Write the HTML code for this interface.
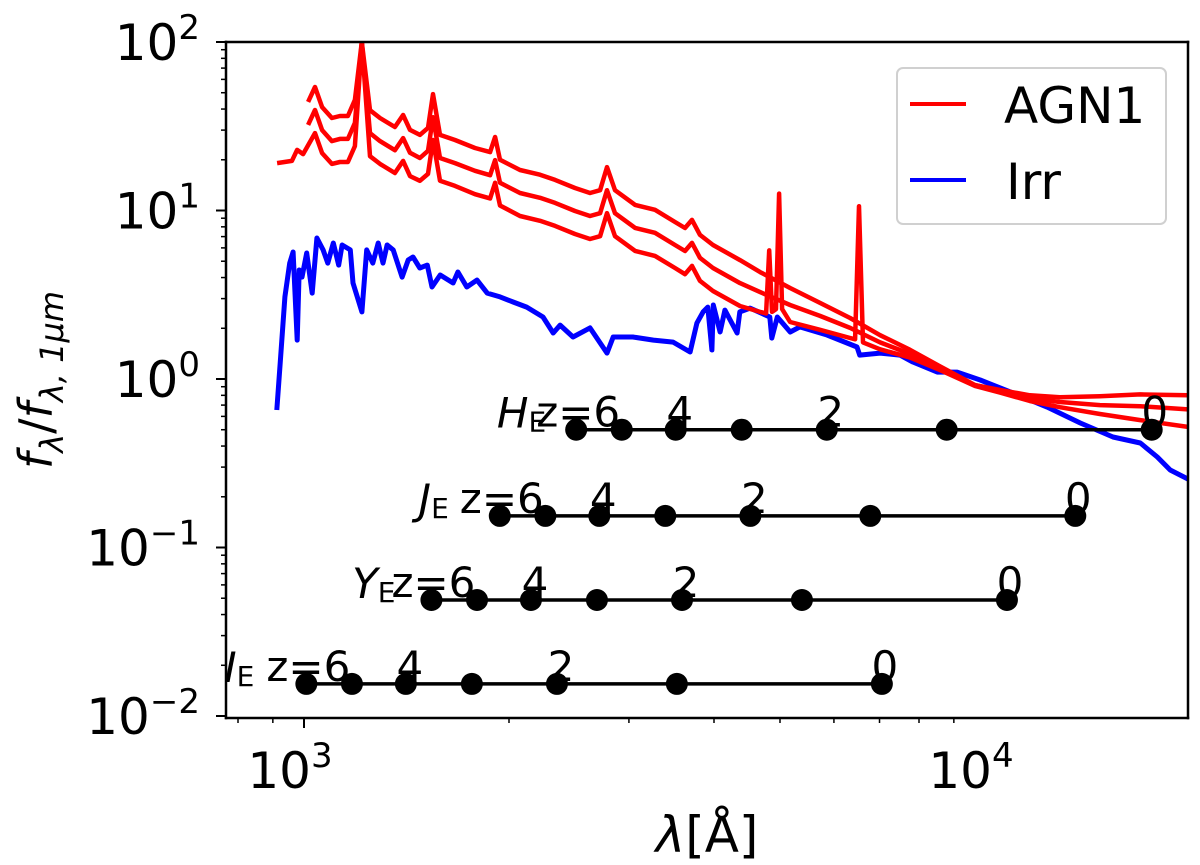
<!DOCTYPE html>
<html><head><meta charset="utf-8"><style>
body{margin:0;background:#fff;}
svg{display:block;font-family:"DejaVu Sans","Liberation Sans",sans-serif;}
</style></head><body>
<svg id="chart" width="1200" height="865" viewBox="0 0 1200 865">
<defs><clipPath id="plotclip"><rect x="226" y="42" width="962" height="676"/></clipPath></defs>
<g id="series" clip-path="url(#plotclip)"></g>
<g id="filters"></g>
<g id="axes"></g>
<g>
<rect x="897" y="68" width="269" height="156" rx="6" fill="#fff" fill-opacity="0.85" stroke="#d0d0d0" stroke-width="2"/>
<line x1="910" y1="104" x2="966" y2="104" stroke="#ff0000" stroke-width="4"/>
<text x="1004" y="123" font-size="50">AGN1</text>
<line x1="910" y1="180" x2="966" y2="180" stroke="#0000ff" stroke-width="4"/>
<text x="1006" y="199" font-size="50">Irr</text>
</g>
<text x="707" y="852" font-size="50" text-anchor="middle"><tspan font-style="italic">λ</tspan>[Å]</text>
<text transform="translate(52,380) rotate(-90)" font-size="46" text-anchor="middle"><tspan font-style="italic">f</tspan><tspan font-size="32" dy="11" font-style="italic">λ</tspan><tspan dy="-11">/</tspan><tspan font-style="italic">f</tspan><tspan font-size="32" dy="11" font-style="italic">λ, 1μm</tspan></text>
</svg>
<script>
// ---- data ----
const agnTopLambda=[1014,1038,1063,1099,1129,1160,1188,1216,1250,1293,1360,1398,1431,1480,1521,1547,1584,1666,1783,1876,1908,1940,2076,2221,2337,2500,2630,2721,2786,2862,3063,3277,3506,3626,3713,3815,3987,4367,4674,5173,5724,6337,7013,7761,8589,9667,10520,11640,12880,14750,16900,19860];
const agnTopFlux=[44.1,54.1,41.1,35.4,36.4,36.4,45.3,100,39.4,35.4,31.3,36.9,30.1,28.1,30.9,49.1,28.1,26.2,23.5,22.2,27.3,20.0,17.4,16.3,15.2,13.6,12.7,13.2,18.1,13.2,10.8,10.1,8.55,7.87,8.79,7.16,6.24,5.08,4.31,3.47,2.83,2.30,1.82,1.49,1.19,0.92,0.86,0.80,0.78,0.79,0.81,0.80];
const agnMidLambda=[1014,1038,1063,1099,1129,1160,1188,1216,1250,1293,1360,1398,1431,1480,1521,1547,1584,1666,1783,1876,1908,1940,2076,2221,2337,2500,2630,2721,2786,2862,3063,3277,3506,3626,3713,3815,3987,4367,4674,5173,5724,6337,7013,7761,8589,9667,10520,11640,12880,14750,16900,19860];
const agnMidFlux=[32.2,39.5,30.0,25.8,26.6,26.6,33.1,100,28.8,25.8,22.8,26.9,22.0,20.5,22.6,35.8,20.5,19.1,17.2,16.2,19.9,14.6,12.7,11.9,11.1,9.93,9.27,9.64,13.2,9.64,7.88,7.37,6.24,5.75,6.42,5.23,4.56,3.71,3.28,2.75,2.37,2.01,1.65,1.41,1.16,0.92,0.85,0.77,0.73,0.70,0.69,0.66];
const agnLowLambda=[913,960,977,997,1038,1063,1099,1129,1160,1188,1216,1250,1293,1360,1398,1431,1480,1521,1547,1584,1666,1783,1876,1908,1940,2076,2221,2337,2500,2630,2721,2786,2862,3063,3277,3506,3626,3713,3815,3987,4367,4674,4770,4820,4867,4933,4984,5035,5173,5724,6337,6445,6530,6620,7013,7761,8589,9667,10520,11640,12880,14750,16900,19860];
const agnLowFlux=[19.1,19.7,22.9,21.6,28.8,21.9,18.9,19.4,19.4,24.1,100,21.0,18.9,16.7,19.7,16.0,15.0,16.5,26.2,15.0,14.0,12.5,11.8,14.6,10.7,9.27,8.69,8.10,7.25,6.77,7.04,9.65,7.04,5.76,5.38,4.56,4.19,4.69,3.82,3.33,2.71,2.50,2.45,5.8,2.5,2.6,12.6,2.6,2.18,1.96,1.75,1.72,10.6,1.65,1.50,1.34,1.13,0.91,0.83,0.74,0.68,0.62,0.57,0.52];
const irrLogLambda=[2.960,2.965,2.972,2.979,2.984,2.990,2.993,2.997,3.004,3.012,3.019,3.028,3.035,3.043,3.051,3.056,3.068,3.072,3.085,3.092,3.101,3.109,3.116,3.122,3.131,3.144,3.153,3.160,3.170,3.181,3.188,3.200,3.219,3.226,3.239,3.254,3.269,3.288,3.307,3.327,3.351,3.366,3.376,3.395,3.420,3.445,3.454,3.483,3.513,3.542,3.567,3.577,3.586,3.593,3.599,3.601,3.611,3.618,3.636,3.640,3.655,3.684,3.687,3.695,3.714,3.728,3.768,3.812,3.816,3.846,3.875,3.894,3.930,3.959,3.993,4.041,4.091,4.140,4.188,4.228,4.253,4.272,4.301];
const irrLogFlux=[-0.184,0.095,0.487,0.688,0.754,0.231,0.647,0.605,0.748,0.510,0.837,0.766,0.688,0.807,0.676,0.795,0.766,0.570,0.398,0.766,0.688,0.807,0.688,0.795,0.766,0.605,0.706,0.724,0.659,0.676,0.546,0.617,0.570,0.635,0.546,0.587,0.510,0.487,0.457,0.427,0.368,0.273,0.320,0.249,0.303,0.154,0.249,0.249,0.231,0.219,0.160,0.332,0.398,0.427,0.172,0.439,0.279,0.409,0.273,0.398,0.421,0.368,0.243,0.368,0.279,0.309,0.261,0.190,0.142,0.154,0.142,0.101,0.041,0.041,-0.006,-0.083,-0.166,-0.261,-0.344,-0.380,-0.463,-0.540,-0.600];
const filterNames=["H","J","Y","I"];
const filterLambda=[17570,13570,10770,7056];
const filterLevels=[0.5,0.154,0.0488,0.0155];
const redshifts=[0,1,2,3,4,5,6];
const zLabels={6:"z=6",4:"4",2:"2",0:"0"};
const xMajorTicks=[1000,10000];
const xMajorLabels=["3","4"];
const yMajorTicks=[100,10,1,0.1,0.01];
const yMajorLabels=["2","1","0","\u22121","\u22122"];

// ---- scales ----
const X0=304, XDEC=681, Y0=42, YDEC=168.5;
function sx(l){return X0+XDEC*(Math.log10(l)-3);}
function sy(f){return Y0+YDEC*(2-Math.log10(f));}
const NS="http://www.w3.org/2000/svg";
function mk(tag,attrs,parent){const e=document.createElementNS(NS,tag);for(const k in attrs)e.setAttribute(k,attrs[k]);parent.appendChild(e);return e;}

const series=document.getElementById("series");
function drawLine(lams,fl,color,w,name){
  const d=lams.map((l,i)=>(i?"L":"M")+sx(l).toFixed(1)+","+sy(fl[i]).toFixed(1)).join("");
  const p=mk("path",{d:d,fill:"none",stroke:color,"stroke-width":w,"stroke-linejoin":"round"},series);
  
  
}
drawLine(irrLogLambda.map(v=>Math.pow(10,v)),irrLogFlux.map(v=>Math.pow(10,v)),"#0000ff",5,"irr-spectrum");
drawLine(agnTopLambda,agnTopFlux,"#ff0000",4.5,"agn1-spectrum-low-extinction");
drawLine(agnMidLambda,agnMidFlux,"#ff0000",4.5,"agn1-spectrum-mid-extinction");
drawLine(agnLowLambda,agnLowFlux,"#ff0000",4.5,"agn1-spectrum-high-extinction");

// ---- filter tracks ----
const fg=document.getElementById("filters");
const labelGap=[30,51,36,52];
filterNames.forEach((n,fi)=>{
  const yy=sy(filterLevels[fi]);
  const xs=redshifts.map(z=>sx(filterLambda[fi]/(1+z)));
  const ln=mk("line",{x1:Math.min(...xs),x2:Math.max(...xs),y1:yy,y2:yy,stroke:"#000","stroke-width":3.5},fg);
  
  
  redshifts.forEach((z,zi)=>{
    const c=mk("circle",{cx:xs[zi],cy:yy,r:11,fill:"#000"},fg);
    
    
    if(zLabels[z]!==undefined){
      const t=mk("text",{x:xs[zi]+(z===0?3:(z===6?2:4)),y:yy-3,"font-size":42,"text-anchor":"middle"},fg);
      t.textContent=zLabels[z];
      
      
    }
  });
  const xr=sx(filterLambda[fi]/7)-labelGap[fi];
  const t=mk("text",{x:xr,y:yy-2,"font-size":42,"text-anchor":"end"},fg);
  t.innerHTML='<tspan font-style="italic">'+n+'</tspan><tspan font-size="28" dy="4">E</tspan>';
  
  
});

// ---- axes ----
const ax=document.getElementById("axes");
const L=226,R=1188,T=42,B=718;
[[L,T,R,T],[L,B,R,B],[L,T,L,B],[R,T,R,B]].forEach((s,i)=>{
  const e=mk("line",{x1:s[0],y1:s[1],x2:s[2],y2:s[3],stroke:"#000","stroke-width":2.5,"stroke-linecap":"square"},ax);
  
  
});
[1,10].forEach(m=>{for(let k=1;k<10;k++){const l=k*m*100;const x=sx(l);if(x<L||x>R)continue;
  const major=(k===1);
  const t=mk("line",{x1:x,x2:x,y1:B,y2:B+(major?10:5),stroke:"#000","stroke-width":major?2:1.5},ax);
  
  }});
[2,3,4,5,6,7,8,9].forEach(k=>{const x=sx(k*10000);if(x<=R){const t=mk("line",{x1:x,x2:x,y1:B,y2:B+5,stroke:"#000","stroke-width":1.5},ax);}});
xMajorTicks.forEach((v,i)=>{
  const t=mk("text",{x:sx(v)-14,y:B+70,"font-size":50,"text-anchor":"middle"},ax);
  t.innerHTML='10<tspan font-size="34" dy="-21">'+xMajorLabels[i]+'</tspan>';
  
  
});
yMajorTicks.forEach((v,i)=>{
  const y=sy(v);
  const t=mk("line",{x1:L-10,x2:L,y1:y,y2:y,stroke:"#000","stroke-width":2},ax);
  
  
  if(i<yMajorTicks.length-1){for(let k=2;k<10;k++){const yy=sy(v/10*k);const m=mk("line",{x1:L-5,x2:L,y1:yy,y2:yy,stroke:"#000","stroke-width":1.5},ax);}}
  const lb=mk("text",{x:200,y:y+18,"font-size":50,"text-anchor":"end"},ax);
  lb.innerHTML='10<tspan font-size="34" dy="-21">'+yMajorLabels[i]+'</tspan>';
  
  
});
</script>
</body></html>
